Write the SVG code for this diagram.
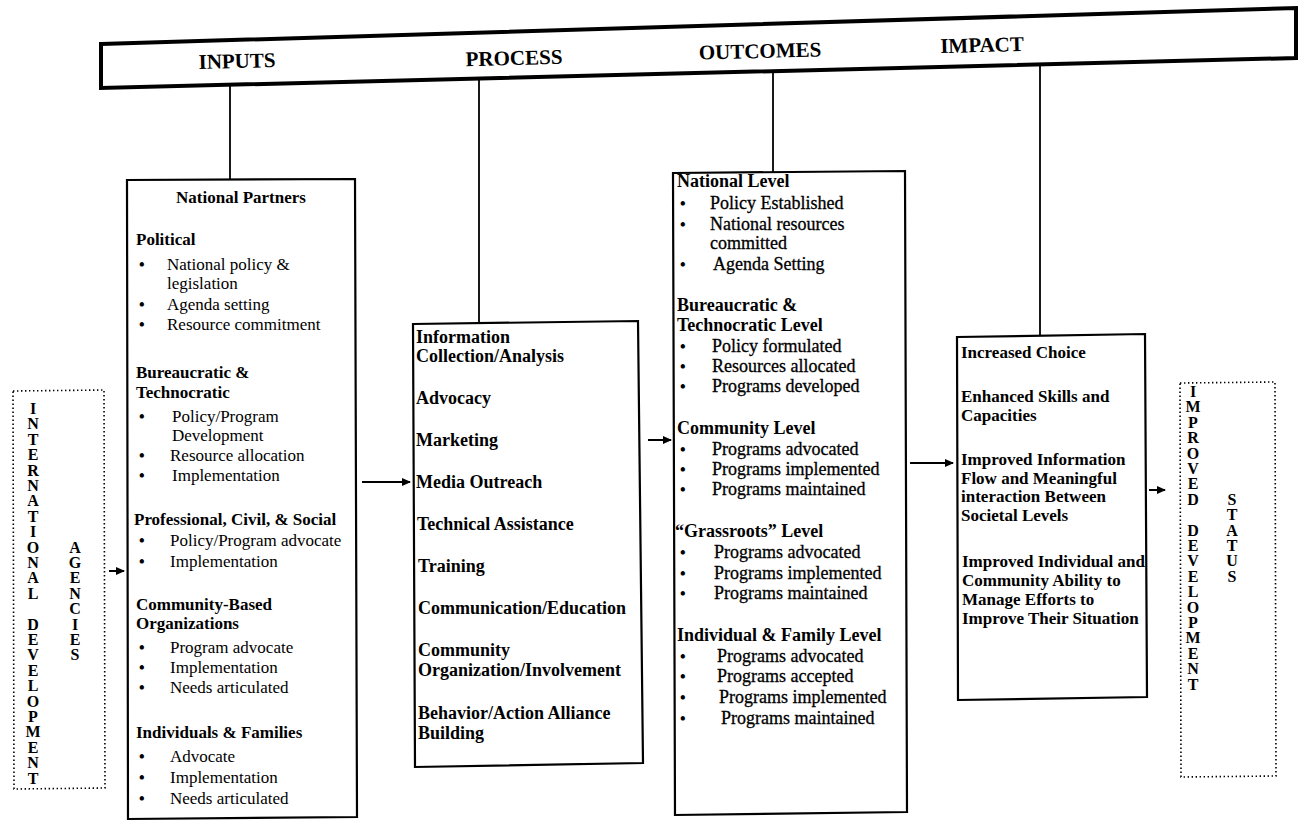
<svg xmlns="http://www.w3.org/2000/svg" width="1300" height="829" viewBox="0 0 1300 829">
<style>
.box{fill:#fff;stroke:#000;stroke-width:2.2}
.dot{fill:none;stroke:#000;stroke-width:1.6;stroke-dasharray:1.4 2.6}
.ln{stroke:#000;stroke-width:1.8;fill:none}
.ar{stroke:#000;stroke-width:2;fill:none;marker-end:url(#ah)}
.ban{font:bold 21px "Liberation Serif",serif;text-anchor:middle}
.h{font:bold 17px "Liberation Serif",serif}
.hp{font:bold 18px "Liberation Serif",serif}
.t{font:17px "Liberation Serif",serif}
.to{font:18px "Liberation Serif",serif;stroke:#000;stroke-width:0.3}
.bu{font:bold 16px "Liberation Serif",serif}
.v{font:bold 16px "Liberation Serif",serif;text-anchor:middle}
</style>
<defs>
<marker id="ah" markerWidth="10" markerHeight="10" refX="8" refY="4" orient="auto" markerUnits="userSpaceOnUse">
<path d="M0,0 L9,4 L0,8 Z" fill="#000"/>
</marker>
</defs>

<g id="banner">
<polygon points="101,44 1296,8 1296,58 101,88" fill="#fff" stroke="#000" stroke-width="4" stroke-linejoin="miter"/>
<text class="ban" x="237" y="68" transform="rotate(-1.5 237 60)">INPUTS</text>
<text class="ban" x="514" y="65" transform="rotate(-1.5 514 57)">PROCESS</text>
<text class="ban" x="760" y="58" transform="rotate(-1.5 760 50)">OUTCOMES</text>
<text class="ban" x="982" y="52" transform="rotate(-1.5 982 44)">IMPACT</text>
</g>

<g id="connectors">
<line class="ln" x1="230" y1="85" x2="230" y2="180"/>
<line class="ln" x1="479" y1="78" x2="479" y2="323"/>
<line class="ln" x1="773" y1="71" x2="773" y2="172"/>
<line class="ln" x1="1040" y1="64" x2="1040" y2="336"/>
<line class="ar" x1="109" y1="571" x2="124" y2="571"/>
<line class="ar" x1="362" y1="482" x2="410" y2="482"/>
<line class="ar" x1="648" y1="440" x2="671" y2="440"/>
<line class="ar" x1="910" y1="463" x2="953" y2="463"/>
<line class="ar" x1="1149" y1="490" x2="1165" y2="490"/>
</g>

<g id="intl-agencies">
<polygon class="dot" points="13,391 104,390 105,788 14,789"/>
<text class="v"><tspan x="33" y="414">I</tspan><tspan x="33" dy="15.4">N</tspan><tspan x="33" dy="15.4">T</tspan><tspan x="33" dy="15.4">E</tspan><tspan x="33" dy="15.4">R</tspan><tspan x="33" dy="15.4">N</tspan><tspan x="33" dy="15.4">A</tspan><tspan x="33" dy="15.4">T</tspan><tspan x="33" dy="15.4">I</tspan><tspan x="33" dy="15.4">O</tspan><tspan x="33" dy="15.4">N</tspan><tspan x="33" dy="15.4">A</tspan><tspan x="33" dy="15.4">L</tspan><tspan x="33" dy="30.8">D</tspan><tspan x="33" dy="15.4">E</tspan><tspan x="33" dy="15.4">V</tspan><tspan x="33" dy="15.4">E</tspan><tspan x="33" dy="15.4">L</tspan><tspan x="33" dy="15.4">O</tspan><tspan x="33" dy="15.4">P</tspan><tspan x="33" dy="15.4">M</tspan><tspan x="33" dy="15.4">E</tspan><tspan x="33" dy="15.4">N</tspan><tspan x="33" dy="15.4">T</tspan></text>
<text class="v"><tspan x="75" y="552.6">A</tspan><tspan x="75" dy="15.4">G</tspan><tspan x="75" dy="15.4">E</tspan><tspan x="75" dy="15.4">N</tspan><tspan x="75" dy="15.4">C</tspan><tspan x="75" dy="15.4">I</tspan><tspan x="75" dy="15.4">E</tspan><tspan x="75" dy="15.4">S</tspan></text>
</g>

<g id="inputs">
<polygon class="box" points="127,180 355,179 357,817 128,819"/>
<text class="h" x="241" y="203" text-anchor="middle">National Partners</text>
<text class="h" x="136" y="245">Political</text>
<text class="bu" x="139" y="270">•</text><text class="t" x="167" y="270">National policy &amp;</text>
<text class="t" x="167" y="289">legislation</text>
<text class="bu" x="139" y="310">•</text><text class="t" x="167" y="310">Agenda setting</text>
<text class="bu" x="139" y="330">•</text><text class="t" x="167" y="330">Resource commitment</text>
<text class="h" x="136" y="378">Bureaucratic &amp;</text>
<text class="h" x="136" y="398">Technocratic</text>
<text class="bu" x="139" y="422">•</text><text class="t" x="172" y="422">Policy/Program</text>
<text class="t" x="172" y="441">Development</text>
<text class="bu" x="139" y="461">•</text><text class="t" x="170" y="461">Resource allocation</text>
<text class="bu" x="139" y="481">•</text><text class="t" x="172" y="481">Implementation</text>
<text class="h" x="134" y="525">Professional, Civil, &amp; Social</text>
<text class="bu" x="139" y="546">•</text><text class="t" x="170" y="546">Policy/Program advocate</text>
<text class="bu" x="139" y="567">•</text><text class="t" x="170" y="567">Implementation</text>
<text class="h" x="136" y="610">Community-Based</text>
<text class="h" x="136" y="629">Organizations</text>
<text class="bu" x="139" y="653">•</text><text class="t" x="170" y="653">Program advocate</text>
<text class="bu" x="139" y="673">•</text><text class="t" x="170" y="673">Implementation</text>
<text class="bu" x="139" y="693">•</text><text class="t" x="170" y="693">Needs articulated</text>
<text class="h" x="136" y="738">Individuals &amp; Families</text>
<text class="bu" x="139" y="762">•</text><text class="t" x="170" y="762">Advocate</text>
<text class="bu" x="139" y="783">•</text><text class="t" x="170" y="783">Implementation</text>
<text class="bu" x="139" y="804">•</text><text class="t" x="170" y="804">Needs articulated</text>
</g>

<g id="process">
<polygon class="box" points="413,324 638,321 643,763 415,767"/>
<text class="hp" x="416" y="343">Information</text>
<text class="hp" x="416" y="362">Collection/Analysis</text>
<text class="hp" x="416" y="404">Advocacy</text>
<text class="hp" x="416" y="446">Marketing</text>
<text class="hp" x="416" y="488">Media Outreach</text>
<text class="hp" x="417" y="530">Technical Assistance</text>
<text class="hp" x="418" y="572">Training</text>
<text class="hp" x="418" y="614">Communication/Education</text>
<text class="hp" x="418" y="656">Community</text>
<text class="hp" x="418" y="676">Organization/Involvement</text>
<text class="hp" x="418" y="719">Behavior/Action Alliance</text>
<text class="hp" x="418" y="739">Building</text>
</g>

<g id="outcomes">
<polygon class="box" points="673,173 905,171 907,812 675,815"/>
<text class="hp" x="677" y="187">National Level</text>
<text class="bu" x="680" y="209">•</text><text class="to" x="710" y="209">Policy Established</text>
<text class="bu" x="680" y="230">•</text><text class="to" x="710" y="230">National resources</text>
<text class="to" x="710" y="249">committed</text>
<text class="bu" x="680" y="270">•</text><text class="to" x="713" y="270">Agenda Setting</text>
<text class="hp" x="677" y="311">Bureaucratic &amp;</text>
<text class="hp" x="677" y="331">Technocratic Level</text>
<text class="bu" x="680" y="352">•</text><text class="to" x="712" y="352">Policy formulated</text>
<text class="bu" x="680" y="372">•</text><text class="to" x="712" y="372">Resources allocated</text>
<text class="bu" x="680" y="392">•</text><text class="to" x="712" y="392">Programs developed</text>
<text class="hp" x="677" y="434">Community Level</text>
<text class="bu" x="680" y="455">•</text><text class="to" x="712" y="455">Programs advocated</text>
<text class="bu" x="680" y="475">•</text><text class="to" x="712" y="475">Programs implemented</text>
<text class="bu" x="680" y="495">•</text><text class="to" x="712" y="495">Programs maintained</text>
<text class="hp" x="675" y="537">“Grassroots” Level</text>
<text class="bu" x="680" y="558">•</text><text class="to" x="714" y="558">Programs advocated</text>
<text class="bu" x="680" y="579">•</text><text class="to" x="714" y="579">Programs implemented</text>
<text class="bu" x="680" y="599">•</text><text class="to" x="714" y="599">Programs maintained</text>
<text class="hp" x="677" y="641">Individual &amp; Family Level</text>
<text class="bu" x="680" y="662">•</text><text class="to" x="717" y="662">Programs advocated</text>
<text class="bu" x="680" y="682">•</text><text class="to" x="717" y="682">Programs accepted</text>
<text class="bu" x="680" y="703">•</text><text class="to" x="719" y="703">Programs implemented</text>
<text class="bu" x="680" y="724">•</text><text class="to" x="721" y="724">Programs maintained</text>
</g>

<g id="impact">
<polygon class="box" points="957,337 1145,334 1147,697 958,700"/>
<text class="h" x="961" y="358">Increased Choice</text>
<text class="h" x="961" y="402">Enhanced Skills and</text>
<text class="h" x="961" y="421">Capacities</text>
<text class="h" x="961" y="465">Improved Information</text>
<text class="h" x="961" y="484">Flow and Meaningful</text>
<text class="h" x="961" y="502">interaction Between</text>
<text class="h" x="961" y="521">Societal Levels</text>
<text class="h" x="962" y="567">Improved Individual and</text>
<text class="h" x="962" y="586">Community Ability to</text>
<text class="h" x="962" y="605">Manage Efforts to</text>
<text class="h" x="962" y="624">Improve Their Situation</text>
</g>

<g id="improved-status">
<polygon class="dot" points="1180,383 1275,382 1276,776 1181,777"/>
<text class="v"><tspan x="1193" y="397">I</tspan><tspan x="1193" dy="15.4">M</tspan><tspan x="1193" dy="15.4">P</tspan><tspan x="1193" dy="15.4">R</tspan><tspan x="1193" dy="15.4">O</tspan><tspan x="1193" dy="15.4">V</tspan><tspan x="1193" dy="15.4">E</tspan><tspan x="1193" dy="15.4">D</tspan><tspan x="1193" dy="30.8">D</tspan><tspan x="1193" dy="15.4">E</tspan><tspan x="1193" dy="15.4">V</tspan><tspan x="1193" dy="15.4">E</tspan><tspan x="1193" dy="15.4">L</tspan><tspan x="1193" dy="15.4">O</tspan><tspan x="1193" dy="15.4">P</tspan><tspan x="1193" dy="15.4">M</tspan><tspan x="1193" dy="15.4">E</tspan><tspan x="1193" dy="15.4">N</tspan><tspan x="1193" dy="15.4">T</tspan></text>
<text class="v"><tspan x="1232" y="504.8">S</tspan><tspan x="1232" dy="15.4">T</tspan><tspan x="1232" dy="15.4">A</tspan><tspan x="1232" dy="15.4">T</tspan><tspan x="1232" dy="15.4">U</tspan><tspan x="1232" dy="15.4">S</tspan></text>
</g>
</svg>
